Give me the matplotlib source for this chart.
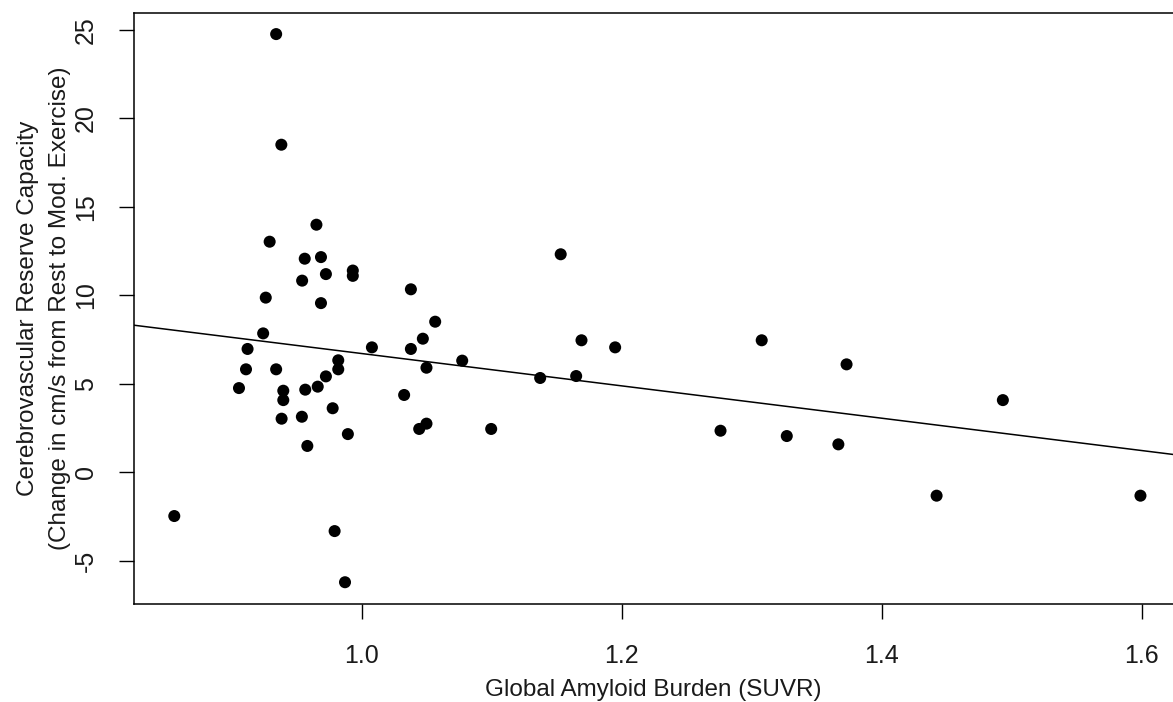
import numpy as np
import matplotlib
matplotlib.use("Agg")
import matplotlib.pyplot as plt

plt.rcParams['font.family'] = ['Liberation Sans', 'DejaVu Sans']

# amyloid SUVR vs change in velocity (rest -> moderate exercise)
suvr = [0.934, 0.938, 0.965, 0.929, 0.956, 0.9685, 0.9723, 0.993, 0.993, 0.954,
        0.926, 0.9685, 0.924, 0.912, 1.0077, 0.9818, 0.9108, 0.934, 0.9818, 0.9723,
        0.9054, 0.9395, 0.9564, 0.966, 0.9395, 0.9775, 0.9382, 0.9538, 0.9892, 0.958,
        0.8556, 0.979, 0.987, 1.153, 1.0377, 1.0564, 1.0469, 1.0377, 1.169, 1.1949,
        1.0772, 1.0497, 1.1372, 1.1649, 1.0325, 1.0441, 1.0497, 1.0995, 1.3077, 1.373,
        1.4933, 1.276, 1.327, 1.3667, 1.4423, 1.5992]
crc = [24.76, 18.51, 13.99, 13.03, 12.07, 12.16, 11.2, 11.1, 11.4, 10.83,
       9.87, 9.56, 7.85, 6.97, 7.06, 6.33, 5.82, 5.82, 5.82, 5.42,
       4.76, 4.61, 4.67, 4.84, 4.08, 3.62, 3.03, 3.14, 2.16, 1.49,
       -2.47, -3.32, -6.21, 12.32, 10.34, 8.51, 7.55, 6.97, 7.46, 7.06,
       6.31, 5.91, 5.33, 5.44, 4.37, 2.45, 2.75, 2.45, 7.46, 6.1,
       4.08, 2.35, 2.05, 1.58, -1.32, -1.32]

# fitted line
fit_intercept = 15.84
fit_slope = -9.13

xticks = [1.0, 1.2, 1.4, 1.6]
yticks = [-5, 0, 5, 10, 15, 20, 25]

W, H = 1173, 702
fig = plt.figure(figsize=(W / 100, H / 100), dpi=100)
# axes box runs past the right edge of the image
ax = fig.add_axes([134 / W, (H - 604) / H, (1181 - 134) / W, (604 - 12.5) / H])

ax.scatter(suvr, crc, s=75, color='black', edgecolors='none', zorder=3)

xlo, xhi = 0.8246, 1.6304
ylo, yhi = -7.44, 25.98
xs = np.array([xlo, xhi])
ax.plot(xs, fit_intercept + fit_slope * xs, color='black', lw=1.1, zorder=2)

ax.set_xlim(xlo, xhi)
ax.set_ylim(ylo, yhi)
ax.set_xticks(xticks)
ax.set_xticklabels(['%.1f' % v for v in xticks])
ax.set_yticks(yticks)
ax.set_yticklabels([str(v) for v in yticks], rotation=90, va='center')
ax.tick_params(axis='both', direction='out', length=11, width=1.0,
               labelsize=18, color='black', labelcolor='#1a1a1a')
ax.tick_params(axis='x', pad=18)
ax.tick_params(axis='y', pad=15)
for sp in ax.spines.values():
    sp.set_linewidth(1.1)

fig.text(0.5 * (134 + 1173) / W, 1 - 690 / H, 'Global Amyloid Burden (SUVR)',
         ha='center', va='center', fontsize=17.5, color='#1a1a1a')
ymid = 1 - (12.5 + 604) / 2 / H
fig.text(28 / W, ymid, 'Cerebrovascular Reserve Capacity',
         rotation=90, ha='center', va='center', fontsize=17.5, color='#1a1a1a')
fig.text(60 / W, ymid, '(Change in cm/s from Rest to Mod. Exercise)',
         rotation=90, ha='center', va='center', fontsize=17.5, color='#1a1a1a')

fig.savefig('out.png', dpi=100)
